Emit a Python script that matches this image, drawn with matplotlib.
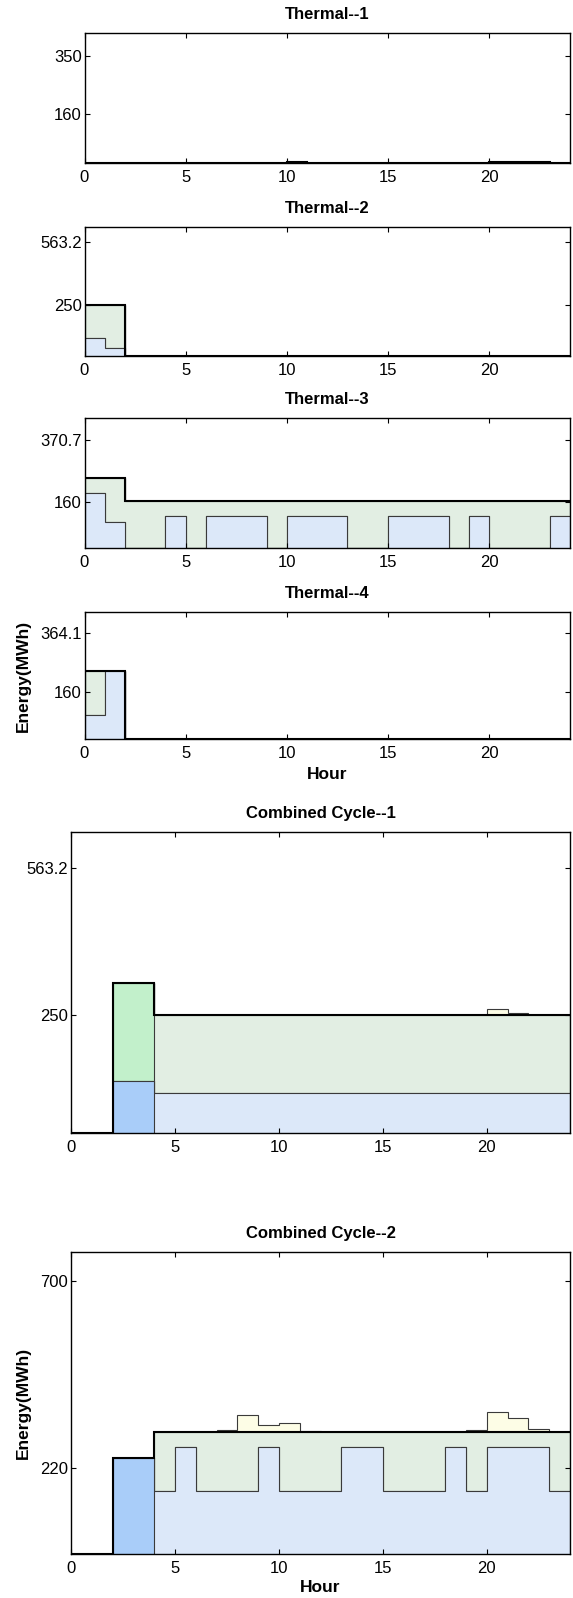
import numpy as np
import matplotlib
matplotlib.use('Agg')
import matplotlib.pyplot as plt

plt.rcParams['font.family'] = ['Liberation Sans', 'DejaVu Sans']

# hourly energy per unit: base (blue), total (blue + green), upper (yellow top)
titles = ['Thermal--1', 'Thermal--2', 'Thermal--3', 'Thermal--4',
          'Combined Cycle--1', 'Combined Cycle--2']

t1_base = [0] * 24
t1_total = [0] * 10 + [5] + [0] * 9 + [3, 3, 3] + [0]
t1_upper = t1_total

t2_base = [87, 41] + [0] * 22
t2_total = [250, 250] + [0] * 22
t2_upper = t2_total

t3_base = [191, 91.5, 0, 0, 112, 0, 112, 112, 112, 0, 112, 112, 112,
           0, 0, 112, 112, 112, 0, 112, 0, 0, 0, 112]
t3_total = [241, 241] + [164] * 22
t3_upper = t3_total

t4_base = [84, 234] + [0] * 22
t4_total = [234, 234] + [0] * 22
t4_upper = t4_total

cc1_base = [0, 0, 111.5, 111.5] + [86] * 20
cc1_total = [0, 0, 318.6, 318.6] + [250] * 20
cc1_upper = [0, 0, 318.6, 318.6] + [250] * 16 + [262.5, 254.5, 250, 250]

cc2_base = [0, 0, 247.6, 247.6, 163, 275, 163, 163, 163, 275, 163, 163, 163,
            275, 275, 163, 163, 163, 275, 163, 275, 275, 275, 163]
cc2_total = [0, 0, 247.6, 247.6] + [313.4] * 20
cc2_upper = [0, 0, 247.6, 247.6, 313.4, 313.4, 313.4, 318.6, 357, 331.4,
             335.7, 316.8, 313.4, 313.4, 313.4, 313.4, 313.4, 313.4, 313.4,
             318.6, 363.9, 348.5, 320.3, 313.4]

yticks = [[160, 350], [250, 563.2], [160, 370.7], [160, 364.1],
          [250, 563.2], [220, 700]]
ytop = [425, 638, 447, 434, 638, 774]
startup = [None, None, None, None, (2, 4), (2, 4)]

units = [(t1_base, t1_total, t1_upper), (t2_base, t2_total, t2_upper),
         (t3_base, t3_total, t3_upper), (t4_base, t4_total, t4_upper),
         (cc1_base, cc1_total, cc1_upper), (cc2_base, cc2_total, cc2_upper)]

BLUE = '#dce8f9'
GREEN = '#e2eee3'
YELLOW = '#fdfde6'
BLUE_START = '#a9cdf9'
GREEN_START = '#c2f0cb'
EDGE = '#3a3a3a'

W, H = 573, 1598
# axes boxes in pixels: left, right, top, bottom
boxes = [(84.5, 570, 33.3, 163.3), (84.5, 570, 226.7, 356),
         (84.5, 570, 418.3, 548.3), (84.5, 570, 612.3, 739.3),
         (71, 570, 832.3, 1133.3), (71, 570, 1252.3, 1554.3)]


def draw(ax, base, total, upper, start):
    base = np.array(base, dtype=float)
    total = np.array(total, dtype=float)
    upper = np.array(upper, dtype=float)
    edges = np.arange(len(base) + 1)
    ax.stairs(upper, edges, baseline=total, fill=True, facecolor=YELLOW,
              edgecolor=EDGE, linewidth=0.8)
    ax.stairs(total, edges, baseline=base, fill=True, facecolor=GREEN,
              edgecolor=EDGE, linewidth=0.8)
    ax.stairs(base, edges, baseline=0, fill=True, facecolor=BLUE,
              edgecolor=EDGE, linewidth=0.8)
    if start is not None:
        s0, s1 = start
        ax.stairs(total[s0:s1], edges[s0:s1 + 1], baseline=base[s0:s1], fill=True,
                  facecolor=GREEN_START, edgecolor=EDGE, linewidth=0.8)
        ax.stairs(base[s0:s1], edges[s0:s1 + 1], baseline=0, fill=True,
                  facecolor=BLUE_START, edgecolor=EDGE, linewidth=0.8)
    ax.stairs(total, edges, baseline=None, color='k', linewidth=1.5, zorder=3)


fig = plt.figure(figsize=(W / 100, H / 100), dpi=100)

for i in range(6):
    l, r, t, b = boxes[i]
    ax = fig.add_axes([l / W, 1 - b / H, (r - l) / W, (b - t) / H])
    base, total, upper = units[i]
    draw(ax, base, total, upper, startup[i])
    ax.set_xlim(0, 24)
    ax.set_ylim(0, ytop[i])
    ax.set_xticks([0, 5, 10, 15, 20])
    ax.set_yticks(yticks[i])
    ax.set_yticklabels([('%g' % v) for v in yticks[i]])
    ax.tick_params(direction='in', top=True, right=True, length=3.5, width=0.8,
                   labelsize=12)
    ax.tick_params(axis='y', pad=2)
    ax.tick_params(axis='x', pad=5)
    for s in ax.spines.values():
        s.set_linewidth(1.0)
    ax.set_title(titles[i], fontsize=12, fontweight='bold', pad=10)
    if i in (3, 5):
        ax.set_xlabel('Hour', fontsize=12.5, fontweight='bold',
                      labelpad=4.5 if i == 3 else 3)
        cy = (t + b) / 2
        fig.text(23 / W, 1 - cy / H, 'Energy(MWh)', rotation=90, ha='center',
                 va='center', fontsize=12.5, fontweight='bold')

fig.savefig('out.png', dpi=100)
